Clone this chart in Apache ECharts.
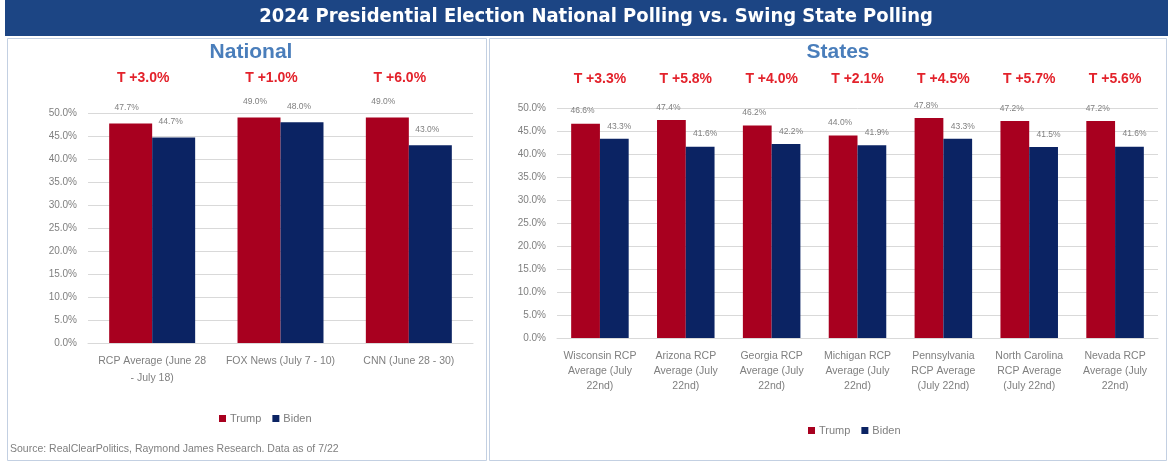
<!DOCTYPE html>
<html>
<head>
<meta charset="utf-8">
<script src="https://cdn.jsdelivr.net/npm/echarts@6/dist/echarts.min.js"></script>
<style>
  html, body { margin: 0; padding: 0; background: #ffffff; }
  #chart { width: 1168px; height: 461px; }
</style>
</head>
<body>
<div id="chart"></div>
<script>
// National polls
const nationalPolls = ['RCP Average (June 28\n- July 18)', 'FOX News (July 7 - 10)', 'CNN (June 28 - 30)'];
const nationalTrump = [47.7, 49.0, 49.0];
const nationalBiden = [44.7, 48.0, 43.0];

// Swing state polls
const statePolls = [
  'Wisconsin RCP\nAverage (July\n22nd)',
  'Arizona RCP\nAverage (July\n22nd)',
  'Georgia RCP\nAverage (July\n22nd)',
  'Michigan RCP\nAverage (July\n22nd)',
  'Pennsylvania\nRCP Average\n(July 22nd)',
  'North Carolina\nRCP Average\n(July 22nd)',
  'Nevada RCP\nAverage (July\n22nd)'
];
const stateTrump = [46.6, 47.4, 46.2, 44.0, 47.8, 47.2, 47.2];
const stateBiden = [43.3, 41.6, 42.2, 41.9, 43.3, 41.5, 41.6];

// Value axis ticks (percent)
const yMin = 0;
const yMax = 50;
const yStep = 5;

const TRUMP = '#a8001f';
const BIDEN = '#0b2363';
const GREY = '#7f7f7f';
const MARGIN_RED = '#e3222b';
const FONT = '"Liberation Sans", Arial, sans-serif';

// Trump lead labels shown above each poll
const lead = (t, b) => t.map((v, i) => 'T +' + (v - b[i]).toFixed(1) + '%');
const nationalLead = lead(nationalTrump, nationalBiden);
const stateLead = lead(stateTrump, stateBiden);

const pct = v => v.toFixed(1) + '%';

function valueAxis(gridIndex) {
  return {
    type: 'value', gridIndex, min: yMin, max: yMax, interval: yStep,
    axisLine: { show: false }, axisTick: { show: false },
    axisLabel: { formatter: pct, color: GREY, fontSize: 10, fontFamily: FONT, margin: 11 },
    splitLine: { lineStyle: { color: '#d9d9d9', width: 1 } }
  };
}

function bottomAxis(gridIndex, data, lineHeight, margin) {
  return {
    type: 'category', gridIndex, data, position: 'bottom',
    axisLine: { show: true, lineStyle: { color: '#d9d9d9' } },
    axisTick: { show: false },
    axisLabel: { interval: 0, color: GREY, fontSize: 10.5, fontFamily: FONT, lineHeight, margin }
  };
}

function leadAxis(gridIndex, data, margin, padRight) {
  return {
    type: 'category', gridIndex, data, position: 'top',
    axisLine: { show: false }, axisTick: { show: false }, splitLine: { show: false },
    axisLabel: {
      interval: 0, color: MARGIN_RED, fontSize: 14, fontWeight: 'bold', fontFamily: FONT,
      margin, padding: [0, padRight, 0, 0]
    }
  };
}

function barSeries(name, data, axisIndex, color, distance, offsetX) {
  return {
    name, type: 'bar', data,
    xAxisIndex: axisIndex, yAxisIndex: axisIndex === 0 ? 0 : 1,
    barGap: '0%', barCategoryGap: '33%',
    itemStyle: { color },
    label: {
      show: true, position: 'top', distance, offset: [offsetX, 0],
      color: GREY, fontSize: 8.5, fontFamily: FONT,
      formatter: p => pct(p.value)
    }
  };
}

const legendBase = {
  data: ['Trump', 'Biden'], icon: 'rect', itemWidth: 7, itemHeight: 7, itemGap: 11,
  textStyle: { color: GREY, fontSize: 11, fontFamily: FONT, padding: [0, 0, 0, -1] }
};

const chart = echarts.init(document.getElementById('chart'), null, { renderer: 'canvas' });

chart.setOption({
  backgroundColor: '#ffffff',
  animation: false,
  graphic: [
    { type: 'rect', z: -10, shape: { x: 5, y: 0, width: 1163, height: 36 }, style: { fill: '#1c4584' } },
    { type: 'rect', z: -10, shape: { x: 7.5, y: 38.5, width: 479, height: 422 }, style: { fill: '#ffffff', stroke: '#c3d0e2', lineWidth: 1 } },
    { type: 'rect', z: -10, shape: { x: 489.5, y: 38.5, width: 677, height: 422 }, style: { fill: '#ffffff', stroke: '#c3d0e2', lineWidth: 1 } }
  ],
  title: [
    {
      text: '2024 Presidential Election National Polling vs. Swing State Polling',
      left: 596, top: 7, textAlign: 'center', padding: 0,
      textStyle: { color: '#ffffff', fontSize: 20, fontWeight: 'bold', fontFamily: '"Liberation Sans Narrow", "DejaVu Sans Condensed", sans-serif' }
    },
    {
      text: 'National', left: 251, top: 42, textAlign: 'center', padding: 0,
      textStyle: { color: '#4a7ebb', fontSize: 21, fontWeight: 'bold', fontFamily: FONT }
    },
    {
      text: 'States', left: 838, top: 42, textAlign: 'center', padding: 0,
      textStyle: { color: '#4a7ebb', fontSize: 21, fontWeight: 'bold', fontFamily: FONT }
    },
    {
      text: 'Source: RealClearPolitics, Raymond James Research. Data as of 7/22',
      left: 10, top: 444, padding: 0,
      textStyle: { color: GREY, fontSize: 10.5, fontWeight: 'normal', fontFamily: FONT }
    }
  ],
  legend: [
    Object.assign({ left: 214, top: 408 }, legendBase),
    Object.assign({ left: 803, top: 420 }, legendBase)
  ],
  grid: [
    { left: 88, top: 113, width: 385, height: 230 },
    { left: 557, top: 108, width: 601, height: 230 }
  ],
  xAxis: [
    bottomAxis(0, nationalPolls, 17, 10),
    bottomAxis(1, statePolls, 15, 11),
    leadAxis(0, nationalLead, 28, 18),
    leadAxis(1, stateLead, 22, 0)
  ],
  yAxis: [valueAxis(0), valueAxis(1)],
  series: [
    barSeries('Trump', nationalTrump, 0, TRUMP, 11, -4),
    barSeries('Biden', nationalBiden, 0, BIDEN, 11, -3),
    barSeries('Trump', stateTrump, 1, TRUMP, 8, -3),
    barSeries('Biden', stateBiden, 1, BIDEN, 8, 5)
  ]
});
</script>
</body>
</html>
